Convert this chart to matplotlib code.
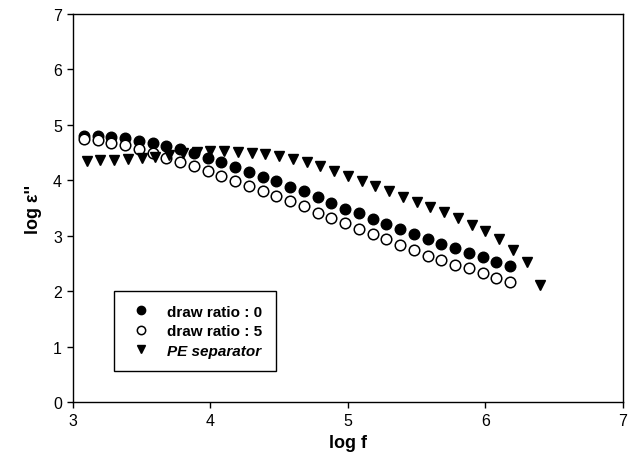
import matplotlib
matplotlib.use("Agg")
import matplotlib.pyplot as plt
from matplotlib.lines import Line2D

plt.rcParams['font.family'] = ['Liberation Sans', 'DejaVu Sans']

# Data
logf_circ = [3.08, 3.18, 3.28, 3.38, 3.48, 3.58, 3.68, 3.78, 3.88, 3.98,
             4.08, 4.18, 4.28, 4.38, 4.48, 4.58, 4.68, 4.78, 4.88, 4.98,
             5.08, 5.18, 5.28, 5.38, 5.48, 5.58, 5.68, 5.78, 5.88, 5.98,
             6.08, 6.18]
draw0 = [4.80, 4.80, 4.79, 4.76, 4.71, 4.67, 4.62, 4.57, 4.49, 4.40,
         4.33, 4.24, 4.15, 4.06, 3.98, 3.88, 3.80, 3.69, 3.59, 3.48,
         3.41, 3.31, 3.22, 3.12, 3.03, 2.94, 2.86, 2.78, 2.69, 2.62,
         2.53, 2.46]
draw5 = [4.75, 4.72, 4.68, 4.63, 4.56, 4.49, 4.41, 4.33, 4.25, 4.17,
         4.08, 3.99, 3.90, 3.81, 3.72, 3.62, 3.53, 3.41, 3.32, 3.23,
         3.12, 3.03, 2.94, 2.83, 2.74, 2.64, 2.57, 2.48, 2.41, 2.32,
         2.24, 2.16]
logf_tri = [3.1, 3.2, 3.3, 3.4, 3.5, 3.6, 3.7, 3.8, 3.9, 4.0,
            4.1, 4.2, 4.3, 4.4, 4.5, 4.6, 4.7, 4.8, 4.9, 5.0,
            5.1, 5.2, 5.3, 5.4, 5.5, 5.6, 5.7, 5.8, 5.9, 6.0,
            6.1, 6.2, 6.3, 6.4]
pe_sep = [4.35, 4.36, 4.37, 4.39, 4.41, 4.42, 4.46, 4.50, 4.51, 4.53,
          4.52, 4.51, 4.50, 4.48, 4.43, 4.38, 4.33, 4.25, 4.17, 4.08,
          3.98, 3.89, 3.80, 3.69, 3.60, 3.51, 3.42, 3.32, 3.20, 3.09,
          2.94, 2.74, 2.52, 2.11]
xticks = [3, 4, 5, 6, 7]
yticks = [0, 1, 2, 3, 4, 5, 6, 7]

fig = plt.figure(figsize=(6.42, 4.77), dpi=100)
ax = fig.add_axes([0.1137, 0.155, 0.8567, 0.8136])

ax.plot(logf_circ, draw0, 'o', color='black', markersize=7.6, linestyle='none')
ax.plot(logf_circ, draw5, 'o', markerfacecolor='white', markeredgecolor='black',
        markeredgewidth=1.1, markersize=7.6, linestyle='none')
ax.plot(logf_tri, pe_sep, 'v', color='black', markersize=7.8, linestyle='none')

ax.set_xlim(3, 7)
ax.set_ylim(0, 7)
ax.set_xticks(xticks)
ax.set_yticks(yticks)
ax.tick_params(direction='out', length=4, width=1, labelsize=11.5, pad=4)
for s in ax.spines.values():
    s.set_linewidth(1.0)

ax.set_xlabel('log f', fontsize=13, fontweight='bold', labelpad=4)
ax.set_ylabel("log ε''", fontsize=13, fontweight='bold', labelpad=8)

handles = [
    Line2D([], [], marker='o', color='black', linestyle='none', markersize=6),
    Line2D([], [], marker='o', markerfacecolor='white', markeredgecolor='black',
           markeredgewidth=1.1, linestyle='none', markersize=6),
    Line2D([], [], marker='v', color='black', linestyle='none', markersize=6.2),
]
labels = ['draw ratio : 0', 'draw ratio : 5', 'PE separator']
leg = ax.legend(handles, labels, loc='lower left', bbox_to_anchor=(0.0745, 0.079),
                frameon=True, fancybox=False, edgecolor='black', framealpha=1,
                prop={'weight': 'bold', 'size': 11}, handletextpad=0.78,
                borderpad=0.9, labelspacing=0.36, handlelength=1.8,
                borderaxespad=0)
leg.get_frame().set_linewidth(1.0)
leg.get_texts()[2].set_fontstyle('italic')

fig.savefig('out.png', dpi=100)
